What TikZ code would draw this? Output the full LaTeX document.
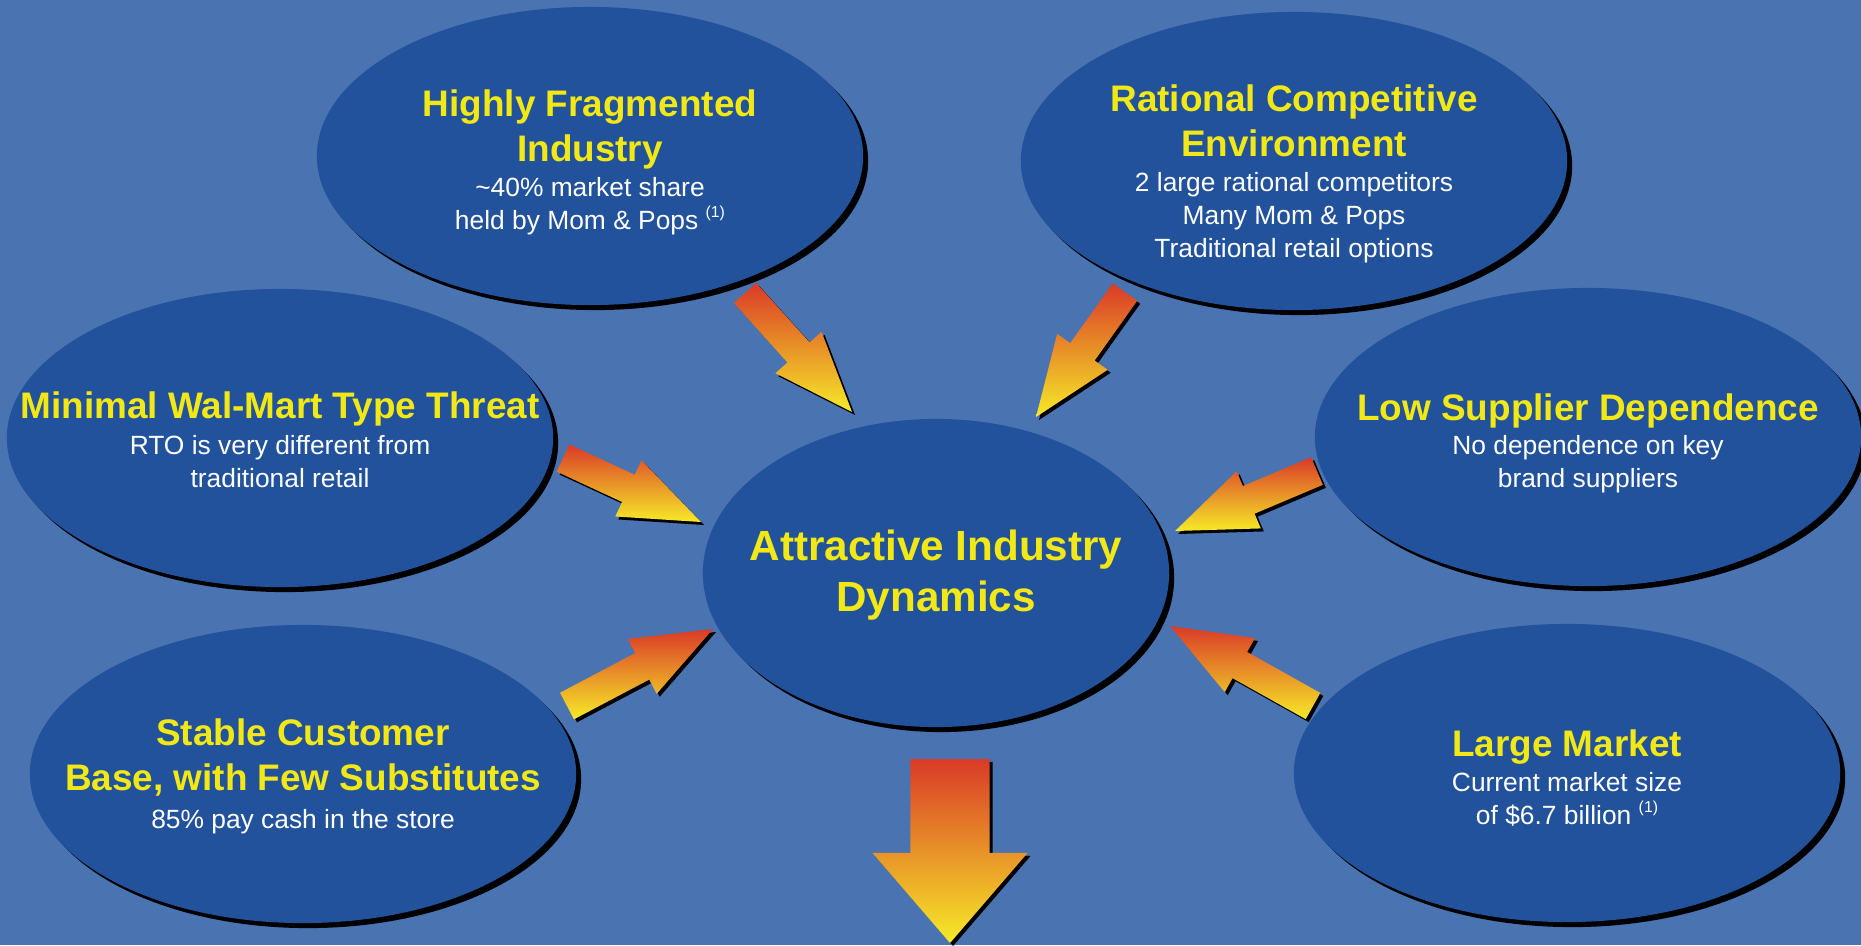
\documentclass[tikz,border=0pt]{standalone}
\usepackage{fontspec}
\setmainfont{Liberation Sans}
\usetikzlibrary{shapes.geometric,shadows,calc}

\definecolor{slideblue}{RGB}{74,115,177}
\definecolor{bubbleblue}{RGB}{33,82,155}
\definecolor{headyellow}{RGB}{242,232,22}
\definecolor{arrowred}{RGB}{218,58,40}
\definecolor{arrowyellow}{RGB}{246,234,40}

\newcommand{\headtxt}{\color{headyellow}\bfseries}
\newcommand{\bodytxt}{\color{white}\fontsize{7.5}{9.4}\selectfont}
\newcommand{\fnote}[1]{\raisebox{3.5pt}{\fontsize{4.5}{5}\selectfont #1}}
\newcommand{\pushdown}[1]{\rule{0pt}{#1}}
% tail, tip, shaft half width, head half width, head length
\newcommand{\fatarrow}[5]{%
  \coordinate (hb) at ($(#2)!#5!(#1)$);
  \path[arrowbody] ($(#1)!#3!90:(#2)$) -- ($(hb)!#3!-90:(#1)$)
    -- ($(hb)!#4!-90:(#1)$) -- (#2) -- ($(hb)!#4!90:(#1)$)
    -- ($(hb)!#3!90:(#1)$) -- ($(#1)!#3!-90:(#2)$) -- cycle;}

\begin{document}
\begin{tikzpicture}[x=0.01cm, y=-0.01cm,
    bubble/.style={ellipse, fill=bubbleblue, inner xsep=-0.9cm, inner ysep=-0.4cm,
      minimum width=5.46cm, minimum height=2.98cm, align=center,
      font=\fontsize{10.5}{12.8}\selectfont,
      drop shadow={shadow xshift=0.05cm, shadow yshift=-0.05cm, fill=black, opacity=1}},
    arrowbody/.style={top color=arrowred, bottom color=arrowyellow,
      drop shadow={shadow xshift=0.03cm, shadow yshift=-0.03cm, fill=black, opacity=1}}]
  \fill[slideblue] (0,0) rectangle (1861,945);
  \useasboundingbox (0,0) rectangle (1861,945);

  \node[bubble, name=frag] at (590,156)
    {\pushdown{11.1pt}\headtxt Highly Fragmented\\\headtxt Industry\\[-2.8pt]
     \bodytxt \textasciitilde40\% market share\\[-3.4pt]
     \bodytxt held by Mom \& Pops \fnote{(1)}};
  \node[bubble, name=rational] at (1294,161)
    {\pushdown{15.1pt}\headtxt Rational Competitive\\\headtxt Environment\\[-2.8pt]
     \bodytxt 2 large rational competitors\\[-3.4pt]
     \bodytxt Many Mom \& Pops\\[-3.4pt]
     \bodytxt Traditional retail options};
  \node[bubble, name=walmart] at (280,438)
    {\pushdown{8.8pt}\headtxt Minimal Wal-Mart Type Threat\\[-2.6pt]
     \bodytxt RTO is very different from\\[-3.4pt]
     \bodytxt traditional retail};
  \node[bubble, name=supplier] at (1588,437)
    {\pushdown{11.1pt}\headtxt Low Supplier Dependence\\[-3pt]
     \bodytxt No dependence on key\\[-3.4pt]
     \bodytxt brand suppliers};
  \node[bubble, name=stable] at (303,774)
    {\pushdown{8.8pt}\headtxt Stable Customer\\\headtxt Base, with Few Substitutes\\[-2pt]
     \bodytxt 85\% pay cash in the store};
  \node[bubble, name=market] at (1567,773)
    {\pushdown{10.5pt}\headtxt Large Market\\[-2.8pt]
     \bodytxt Current market size\\[-3.4pt]
     \bodytxt of \$6.7 billion \fnote{(1)}};
  \node[bubble, name=core, minimum width=4.66cm, minimum height=3.08cm,
    font=\fontsize{12}{14.5}\selectfont] at (936,573)
    {\pushdown{9.9pt}\headtxt Attractive Industry\\\headtxt Dynamics};

  % arrow ends
  \coordinate (fragtail) at (745,293);   \coordinate (fragtip) at (852,412);
  \coordinate (rattail) at (1125,292);   \coordinate (rattip) at (1036,417);
  \coordinate (walltail) at (563,458);   \coordinate (walltip) at (701,522);
  \coordinate (supptail) at (1317,471);  \coordinate (supptip) at (1175,531);
  \coordinate (stabtail) at (567,706);   \coordinate (stabtip) at (713,629);
  \coordinate (markettail) at (1313,706); \coordinate (markettip) at (1170,626);
  \coordinate (outtail) at (950,759);    \coordinate (outtip) at (950,943);

  \foreach \from/\to in {fragtail/fragtip, rattail/rattip, walltail/walltip,
      supptail/supptip, stabtail/stabtip, markettail/markettip}
    \fatarrow{\from}{\to}{0.15cm}{0.31cm}{0.8cm};
  \fatarrow{outtail}{outtip}{0.395cm}{0.775cm}{0.9cm}
\end{tikzpicture}
\end{document}
